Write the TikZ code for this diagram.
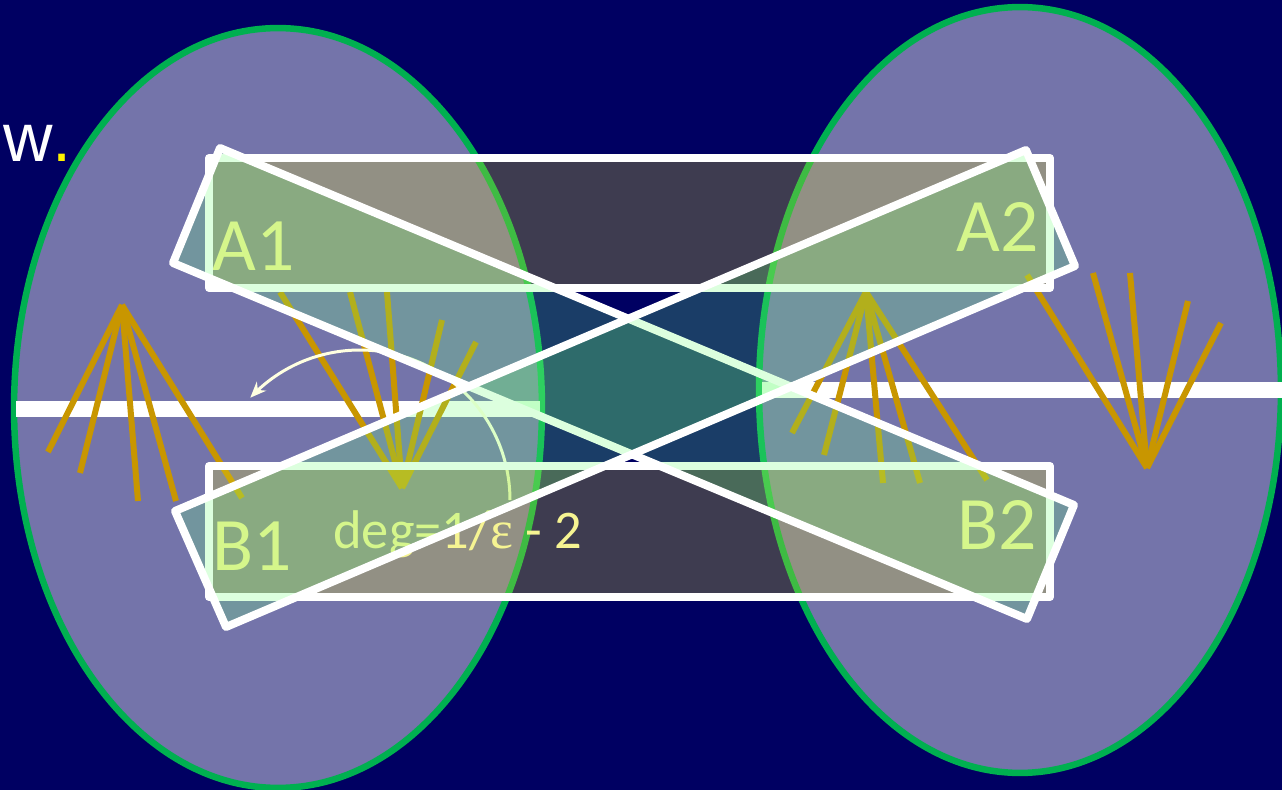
\documentclass[tikz,border=0pt]{standalone}
\usepackage{fontspec}
\setmainfont{Carlito}
\newfontfamily\wfont{Liberation Sans}
\newfontfamily\epsfont{Liberation Serif}
\usetikzlibrary{arrows.meta}
\definecolor{navy}{RGB}{0,0,98}
\definecolor{lav}{RGB}{116,116,170}
\definecolor{rim}{RGB}{0,176,80}
\definecolor{fan}{RGB}{200,150,0}
\definecolor{lbl}{RGB}{255,255,190}
\definecolor{arcline}{RGB}{255,255,225}
\definecolor{recfill}{RGB}{225,218,35}
\definecolor{bandfill}{RGB}{110,255,120}
\begin{document}
\begin{tikzpicture}[x=0.02cm,y=-0.02cm,
  side/.style={fill=lav,draw=rim,line width=0.13cm},
  bar/.style={white,line width=0.32cm},
  ray/.style={fan,line width=0.12cm},
  lab/.style={lbl,font=\fontsize{43}{43}\selectfont,anchor=base west,inner sep=0pt},
  box/.style={draw=white,line width=0.16cm,line join=round,fill=recfill,fill opacity=0.28},
  band/.style={draw=white,line width=0.16cm,line join=round,fill=bandfill,fill opacity=0.24}]
\fill[navy] (0,0) rectangle (1282,790);
\clip (0,0) rectangle (1282,790);
\draw[side] (278,408) ellipse [x radius=5.28cm,y radius=7.6cm];
\draw[side] (1020,390) ellipse [x radius=5.22cm,y radius=7.66cm];
\draw[bar] (16,409)--(540,409);
\draw[bar] (762,390)--(1282,390);
\coordinate (fanL) at (122,305);
\coordinate (fanLB) at (402,488);
\coordinate (fanR) at (866,292);
\coordinate (fanRB) at (1147,468);
\foreach \x/\y in {48/452,80/473,138/501,176/501,242/498} \draw[ray] (fanL)--(\x,\y);
\foreach \x/\y in {280/292,350/292,387/292,442/320,476/342} \draw[ray] (fanLB)--(\x,\y);
\foreach \x/\y in {792/433,824/455,883/483,920/483,987/480} \draw[ray] (fanR)--(\x,\y);
\foreach \x/\y in {1027/275,1093/273,1130/273,1188/301,1221/323} \draw[ray] (fanRB)--(\x,\y);
\node[white,font=\wfont\fontsize{39}{39}\selectfont,anchor=base west,inner sep=0pt] (w) at (3,162) {w\textcolor{yellow}{.}};
\node[lab] (a1) at (212,271) {A1};
\node[lab] (a2) at (956,252) {A2};
\node[lab] (b1) at (212,570) {B1};
\node[lab] (b2) at (957,550) {B2};
\node[lab,font=\fontsize{31}{31}\selectfont] (deg) at (333,548) {deg=1/{\epsfont ε} - 2};
\draw[arcline,line width=0.06cm,-{Stealth[length=0.32cm,width=0.26cm]}]
  plot[domain=0:137,samples=40,smooth] ({360+150*cos(\x)},{500-150*sin(\x)});
\draw[box] (209,158) rectangle (1050,288);
\draw[box] (209,466) rectangle (1050,597);
\draw[band] (220,148)--(173,263)--(1027,619)--(1074,505)--cycle;
\draw[band] (175,511)--(226,627)--(1075,266)--(1026,150)--cycle;
\end{tikzpicture}
\end{document}
